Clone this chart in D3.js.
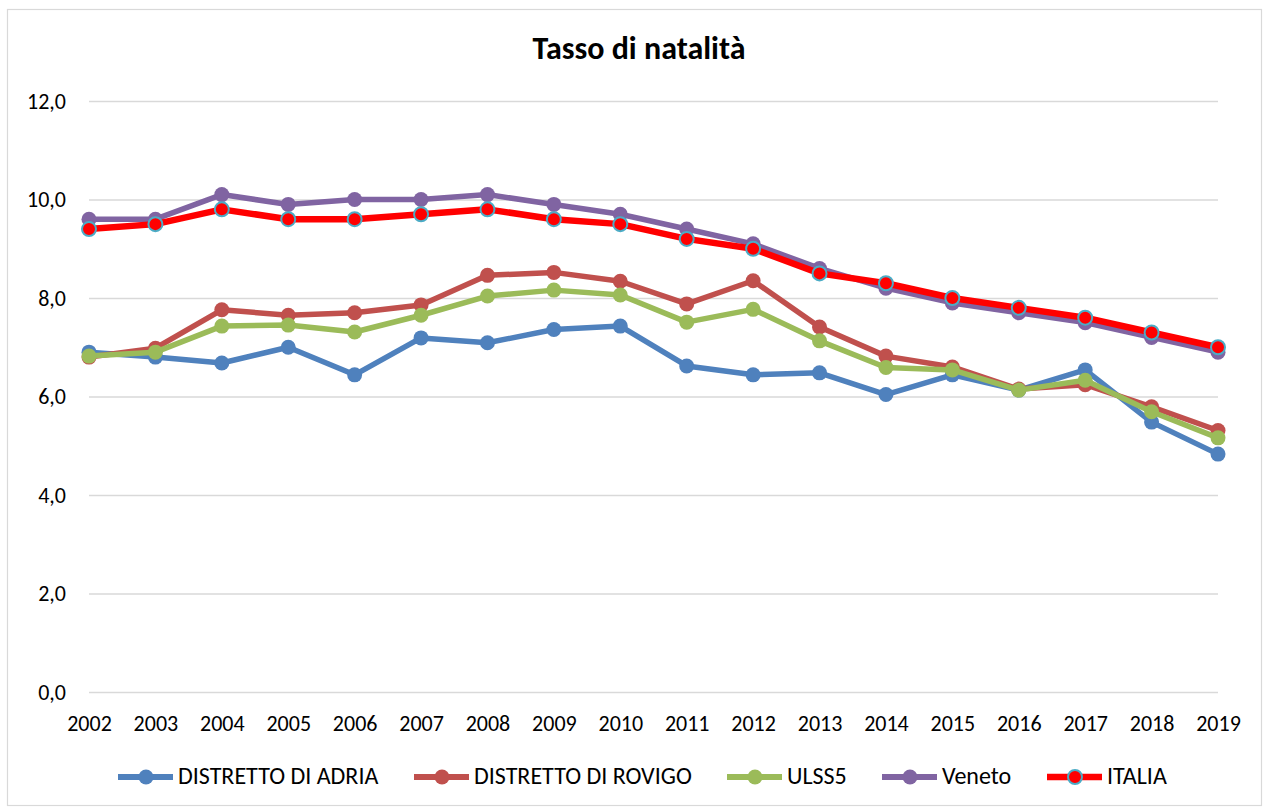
<!DOCTYPE html>
<html><head><meta charset="utf-8">
<script src="https://cdn.jsdelivr.net/npm/d3@7"></script>
<style>body{margin:0;background:#fff;} svg{display:block;}</style>
</head><body>
<svg id="c" width="1269" height="810"></svg>
<script>
const years = [2002,2003,2004,2005,2006,2007,2008,2009,2010,2011,2012,2013,2014,2015,2016,2017,2018,2019];
const adria  = [6.90,6.80,6.68,7.00,6.44,7.19,7.09,7.36,7.43,6.62,6.44,6.48,6.04,6.44,6.13,6.54,5.48,4.83];
const rovigo = [6.80,6.98,7.76,7.65,7.70,7.86,8.46,8.52,8.34,7.88,8.35,7.41,6.82,6.60,6.15,6.24,5.79,5.31];
const ulss5  = [6.82,6.90,7.43,7.45,7.31,7.65,8.04,8.16,8.06,7.51,7.77,7.13,6.59,6.54,6.13,6.33,5.69,5.16];
const veneto = [9.6,9.6,10.1,9.9,10.0,10.0,10.1,9.9,9.7,9.4,9.1,8.6,8.2,7.9,7.7,7.5,7.2,6.9];
const italia = [9.4,9.5,9.8,9.6,9.6,9.7,9.8,9.6,9.5,9.2,9.0,8.5,8.3,8.0,7.8,7.6,7.3,7.0];
const yTicks = [0,2,4,6,8,10,12];
const seriesNames = ["DISTRETTO DI ADRIA","DISTRETTO DI ROVIGO","ULSS5","Veneto","ITALIA"];
const seriesValues = [adria, rovigo, ulss5, veneto, italia];
const colors = ["#4F81BD","#C0504D","#9BBB59","#8064A2","#FF0000"];
const markerStroke = ["none","none","none","none","#4BACC6"];
const title = "Tasso di natalità";

const svg = d3.select("#c");
const font = "Calibri, Carlito, 'Liberation Sans', Arial, sans-serif";
svg.append("rect").attr("x",7.5).attr("y",9.5).attr("width",1254).attr("height",796)
  .attr("fill","#fff").attr("stroke","#D9D9D9").attr("stroke-width",1.2);

const L = 89, R = 1218, T = 101, B = 692;
const x = d3.scalePoint().domain(years).range([L,R]);
const y = d3.scaleLinear().domain([0,12]).range([B,T]);

const fmt = v => d3.format(".1f")(v).replace(".",",");
const gy = svg.append("g").attr("transform",`translate(${L},0)`)
  .call(d3.axisLeft(y).tickValues(yTicks).tickSize(-(R-L)).tickFormat(fmt).tickPadding(23));
gy.select(".domain").remove();
gy.selectAll(".tick line").attr("stroke","#D9D9D9").attr("stroke-width",1.5);
gy.selectAll(".tick text").attr("font-family",font).attr("font-size",22).attr("fill","#000");

const gx = svg.append("g").attr("transform",`translate(0,${B})`)
  .call(d3.axisBottom(x).tickSize(0).tickPadding(23));
gx.select(".domain").remove();
gx.selectAll(".tick text").attr("font-family",font).attr("font-size",22).attr("fill","#000");

svg.append("text").attr("x",639).attr("y",59).attr("text-anchor","middle")
  .attr("font-family",font).attr("font-weight","bold").attr("font-size",32).text(title);

const line = d3.line().x((d,i)=>x(years[i])).y(d=>y(d));
seriesValues.forEach((vals,k)=>{
  const g = svg.append("g");
  g.append("path").attr("d",line(vals)).attr("fill","none").attr("stroke",colors[k])
    .attr("stroke-width",k===4?6.5:5.5).attr("stroke-linejoin","round");
  g.selectAll("circle").data(vals).join("circle")
    .attr("cx",(d,i)=>x(years[i])).attr("cy",d=>y(d))
    .attr("r",k===4?7:7.5).attr("fill",colors[k])
    .attr("stroke",markerStroke[k]).attr("stroke-width",k===4?2:0);
});

// legend
const legX = [118,414,727,882,1047];
const ly = 777;
seriesNames.forEach((n,k)=>{
  const g = svg.append("g");
  g.append("line").attr("x1",legX[k]).attr("x2",legX[k]+55).attr("y1",ly).attr("y2",ly)
    .attr("stroke",colors[k]).attr("stroke-width",k===4?6.5:6);
  g.append("circle").attr("cx",legX[k]+28).attr("cy",ly).attr("r",k===4?7:7.5)
    .attr("fill",colors[k]).attr("stroke",markerStroke[k]).attr("stroke-width",k===4?2:0);
  g.append("text").attr("x",legX[k]+60).attr("y",ly+7).attr("font-family",font)
    .attr("font-size",24).attr("fill","#000").text(n);
});
</script>
</body></html>
